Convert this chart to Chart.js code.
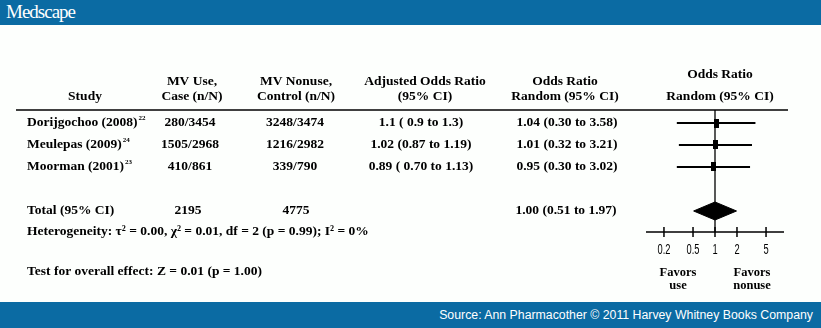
<!DOCTYPE html>
<html>
<head>
<meta charset="utf-8">
<script src="https://cdn.jsdelivr.net/npm/chart.js@4.4.1/dist/chart.umd.min.js"></script>
<style>
  body { margin: 0; width: 821px; height: 328px; background: #fdfffd; overflow: hidden; position: relative; }
  #topbar { position: absolute; left: 0; top: 0; width: 821px; height: 25px; background: #0b6ba3; }
  #logo { position: absolute; left: 6px; top: 1px; color: #fff; font: 19px "Liberation Serif", serif; letter-spacing: -1px; }
  #bottombar { position: absolute; left: 0; top: 302px; width: 821px; height: 26px; background: #0b6ba3; }
  #source { position: absolute; right: 8px; top: 6px; color: #fff; font: 12.3px "Liberation Sans", Arial, sans-serif; }
  #chart { position: absolute; left: 0; top: 0; }
</style>
</head>
<body>
<canvas id="chart" width="821" height="328"></canvas>
<div id="topbar"><div id="logo">Medscape</div></div>
<div id="bottombar"><div id="source">Source: Ann Pharmacother © 2011 Harvey Whitney Books Company</div></div>
<script>
// データ
const studies = ['Dorijgochoo (2008)', 'Meulepas (2009)', 'Moorman (2001)'];
const refs = ['22', '24', '23'];
const caseCounts = ['280/3454', '1505/2968', '410/861'];
const controlCounts = ['3248/3474', '1216/2982', '339/790'];
const adjustedText = ['1.1 ( 0.9 to 1.3)', '1.02 (0.87 to 1.19)', '0.89 ( 0.70 to 1.13)'];
const oddsRatios = [1.04, 1.01, 0.95];
const ciLow = [0.30, 0.32, 0.30];
const ciHigh = [3.58, 3.21, 3.02];
const rowPos = [1, 2, 3];

const totalRow = 5;
const totalCase = '2195';
const totalControl = '4775';
const totalOR = 1.00;
const totalLow = 0.51;
const totalHigh = 1.97;

const axisTicks = [0.2, 0.5, 1, 2, 5];
const heterogeneity = 'Heterogeneity: τ² = 0.00, χ² = 0.01, df = 2 (p = 0.99); I² = 0%';
const overallEffect = 'Test for overall effect: Z = 0.01 (p = 1.00)';

const fmtCI = (or, lo, hi) => `${or.toFixed(2)} (${lo.toFixed(2)} to ${hi.toFixed(2)})`;

// 四角マーカー
const square = document.createElement('canvas');
square.width = 5;
square.height = 9;
const sctx = square.getContext('2d');
sctx.fillStyle = '#000';
sctx.fillRect(0, 0, 5, 9);

const serifBold = 'bold 13.5px "Liberation Serif", "Times New Roman", serif';

const datasets = [];
// 基準線 (OR = 1)
datasets.push({
  data: [{ x: 1, y: 0.41 }, { x: 1, y: 5.95 }],
  showLine: true, borderColor: '#000', borderWidth: 1.3, pointRadius: 0
});
// 信頼区間
rowPos.forEach((r, i) => {
  datasets.push({
    data: [{ x: ciLow[i], y: r }, { x: ciHigh[i], y: r }],
    showLine: true, borderColor: '#000', borderWidth: 2, pointRadius: 0
  });
});
// 点推定
datasets.push({
  data: rowPos.map((r, i) => ({ x: oddsRatios[i], y: r })),
  pointStyle: square, pointRadius: 4
});
// 合計のひし形
datasets.push({
  data: [
    { x: totalLow, y: totalRow }, { x: totalOR, y: totalRow - 0.41 },
    { x: totalHigh, y: totalRow }, { x: totalOR, y: totalRow + 0.41 },
    { x: totalLow, y: totalRow }
  ],
  showLine: true, fill: 'shape', borderColor: '#000', backgroundColor: '#000',
  borderWidth: 1, pointRadius: 0, tension: 0
});

function drawSup(ctx, text, sup, x, y) {
  ctx.textAlign = 'left';
  ctx.font = serifBold;
  ctx.fillText(text, x, y);
  const w = ctx.measureText(text).width;
  ctx.font = 'bold 7px "Liberation Serif", serif';
  ctx.fillText(sup, x + w + 1, y - 5);
}

const tablePlugin = {
  id: 'forestTable',
  afterDraw(chart) {
    const { ctx, chartArea, scales: { x, y } } = chart;
    ctx.save();
    ctx.fillStyle = '#000';
    ctx.strokeStyle = '#000';
    ctx.textBaseline = 'middle';

    // 見出し
    const top = chartArea.top;
    ctx.font = serifBold;
    ctx.textAlign = 'center';
    const heads = [
      [85, '', 'Study'],
      [192, 'MV Use,', 'Case (n/N)'],
      [296, 'MV Nonuse,', 'Control (n/N)'],
      [425, 'Adjusted Odds Ratio', '(95% CI)'],
      [565, 'Odds Ratio', 'Random (95% CI)']
    ];
    heads.forEach(([cx, l1, l2]) => {
      if (l1) ctx.fillText(l1, cx, top - 28);
      ctx.fillText(l2, cx, top - 13);
    });
    ctx.fillText('Odds Ratio', 720, top - 35);
    ctx.fillText('Random (95% CI)', 720, top - 13);

    // 見出しの罫線
    ctx.lineWidth = 1.5;
    ctx.beginPath();
    ctx.moveTo(16, top);
    ctx.lineTo(788, top);
    ctx.stroke();

    // 各行
    rowPos.forEach((r, i) => {
      const py = y.getPixelForValue(r);
      drawSup(ctx, studies[i], refs[i], 27, py);
      ctx.font = serifBold;
      ctx.textAlign = 'center';
      ctx.fillText(caseCounts[i], 190, py);
      ctx.fillText(controlCounts[i], 295, py);
      ctx.fillText(adjustedText[i], 421, py);
      ctx.fillText(fmtCI(oddsRatios[i], ciLow[i], ciHigh[i]), 567, py);
    });

    // 合計
    const ty = y.getPixelForValue(totalRow);
    ctx.textAlign = 'left';
    ctx.fillText('Total (95% CI)', 27, ty);
    ctx.textAlign = 'center';
    ctx.fillText(totalCase, 188, ty);
    ctx.fillText(totalControl, 296, ty);
    ctx.fillText(fmtCI(totalOR, totalLow, totalHigh), 566, ty);

    ctx.textAlign = 'left';
    ctx.fillText(heterogeneity, 27, y.getPixelForValue(5.95));
    ctx.fillText(overallEffect, 27, y.getPixelForValue(7.73));

    // 横軸
    const ay = chartArea.bottom;
    ctx.lineWidth = 1.5;
    ctx.beginPath();
    ctx.moveTo(chartArea.left, ay);
    ctx.lineTo(chartArea.right, ay);
    axisTicks.forEach(t => {
      const px = x.getPixelForValue(t);
      ctx.moveTo(px, ay - 5);
      ctx.lineTo(px, ay + 5);
    });
    ctx.stroke();
    // 目盛りラベル（縦長の細い字体）
    ctx.font = '15px "Liberation Sans", "DejaVu Sans", sans-serif';
    ctx.textAlign = 'center';
    axisTicks.forEach(t => {
      ctx.save();
      ctx.translate(x.getPixelForValue(t), ay + 18);
      ctx.scale(0.62, 1);
      ctx.fillText(String(t), 0, 0);
      ctx.restore();
    });

    ctx.font = 'bold 12.5px "Liberation Serif", "Times New Roman", serif';
    ctx.fillText('Favors', 678, ay + 41);
    ctx.fillText('use', 678, ay + 54);
    ctx.fillText('Favors', 752, ay + 41);
    ctx.fillText('nonuse', 752, ay + 54);
    ctx.restore();
  }
};

new Chart(document.getElementById('chart'), {
  type: 'scatter',
  data: { datasets },
  options: {
    responsive: false,
    animation: false,
    layout: { padding: { left: 646, right: 37, top: 110, bottom: 96 } },
    scales: {
      x: { type: 'logarithmic', min: 0.1135, max: 8.81, display: false },
      y: { type: 'linear', min: 0.409, max: 5.955, reverse: true, display: false }
    },
    plugins: { legend: { display: false }, tooltip: { enabled: false } }
  },
  plugins: [tablePlugin]
});
</script>
</body>
</html>
